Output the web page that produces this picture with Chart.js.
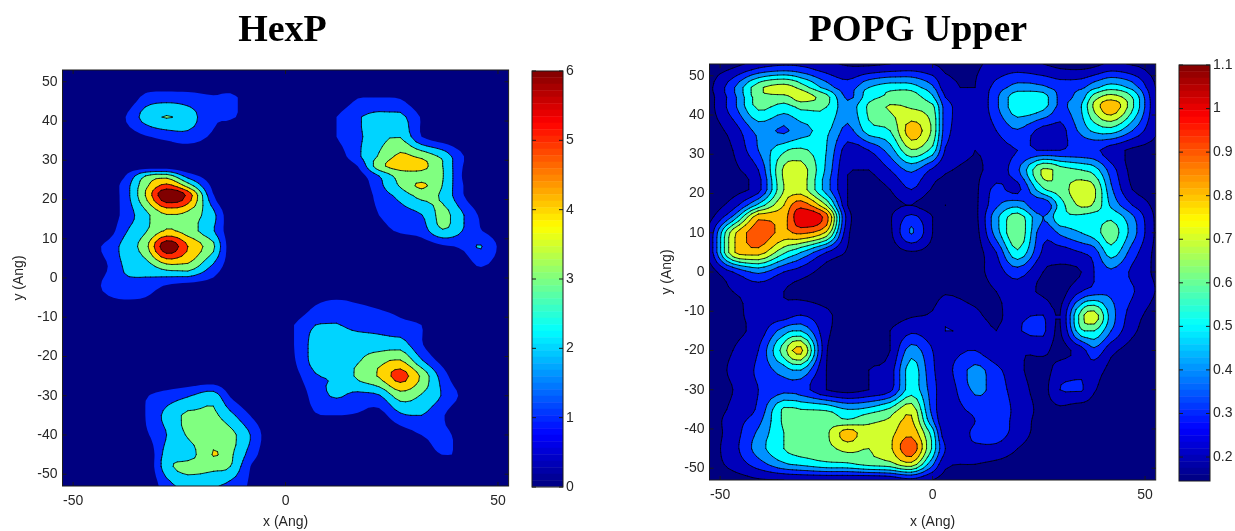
<!DOCTYPE html>
<html>
<head>
<meta charset="utf-8">
<title>HexP / POPG Upper</title>
<script src="https://cdn.jsdelivr.net/npm/chart.js@4/dist/chart.umd.js"></script>
<style>
  html, body { margin: 0; padding: 0; background: #fff; overflow: hidden; }
  #page { position: relative; width: 1235px; height: 531px; }
  .box { position: absolute; }
  canvas { filter: blur(0.4px); }
</style>
</head>
<body>
<div id="page">
  <div class="box" style="left:0;top:0;width:565px;height:531px"><canvas id="map-hexp"></canvas></div>
  <div class="box" style="left:650px;top:0;width:536px;height:531px"><canvas id="map-popg"></canvas></div>
  <div class="box" style="left:525px;top:55px;width:60px;height:445px"><canvas id="bar-hexp"></canvas></div>
  <div class="box" style="left:1172px;top:50px;width:63px;height:445px"><canvas id="bar-popg"></canvas></div>
</div>
<script>
const xTicks = [-50, 0, 50];
const yTicks = [-50, -40, -30, -20, -10, 0, 10, 20, 30, 40, 50];

const hexpLevels = [1, 2, 3, 4, 5, 6];
const hexpLineLevels = [2, 3, 4, 5, 6];
const hexpBarTicks = [0, 1, 2, 3, 4, 5, 6];
const hexpX = [-53, -48, -43, -38, -33, -28, -23, -17, -13, -8, -3, 2, 7, 12, 17, 22, 27, 32, 37, 42, 46, 53];
const hexpY = [53, 51, 46, 41, 36, 31, 28.5, 26, 23.5, 21, 16, 12, 8, 3, -2, -7, -12, -17, -21, -25, -30, -35, -40, -45, -48, -53];
const hexpZ = [
  [0,0,0,0,0,0,0,0,0,0,0,0,0,0,0,0,0,0,0,0,0,0],
  [0,0,0,0,0,0,0,0,0,0,0,0,0,0,0,0,0,0,0,0,0,0],
  [0,0,0,0,1.3,1.5,1.4,1.1,1.2,.5,0,0,0,0,.95,1,.9,0,0,0,0,0],
  [0,0,0,.9,2.4,3.05,2.5,1.2,1.1,.6,0,0,0,1,1.9,2.3,2.3,.9,0,0,0,0],
  [0,0,0,.4,.9,1.3,1.6,.8,.2,0,0,0,0,1,1.8,2.6,2.95,1,.3,0,0,0],
  [0,0,0,0,0,0,0,0,0,0,0,0,0,.4,1.8,3.1,4.2,3.7,2.7,1,.1,0],
  [0,0,0,.3,.3,.3,0,0,0,0,0,0,0,.2,1,3.6,4.4,4.3,3,.9,0,0],
  [0,0,0,.9,3,3.5,1.6,.4,0,0,0,0,0,0,.5,2,3.4,3.6,3.05,.8,0,0],
  [0,0,0,1.4,3.7,5.3,3.6,.7,0,0,0,0,0,0,.2,1.7,3.1,4.15,2.95,.95,0,0],
  [0,0,0,1.4,4,6.9,5.7,1.1,0,0,0,0,0,0,0,1.4,2.3,3.3,2.8,1,.1,0],
  [0,0,0,1.3,2.7,3.9,3.6,2.3,.3,0,0,0,0,0,0,1,1.5,1.95,3.3,2,.8,0],
  [0,0,0,1.8,2.9,4.1,3.5,2.1,.4,0,0,0,0,0,0,.6,1.15,1.5,2.9,1.9,1.05,0],
  [0,0,1.1,2.3,3.6,6.7,5,3.2,.5,0,0,0,0,0,0,0,0,.3,.8,1.2,2.05,0],
  [0,0,.7,2.1,2.5,3.6,3.7,1.8,.5,0,0,0,0,0,0,0,0,0,0,.3,1.05,0],
  [0,0,1.1,1.7,1.6,.9,.6,.5,0,0,0,0,0,0,0,0,0,0,0,0,0,0],
  [0,0,.5,.7,.6,.1,0,0,0,0,0,0,1,1.4,1.1,.85,.6,0,0,0,0,0],
  [0,0,0,0,0,0,0,0,0,0,0,1,2,2.05,1.7,1.6,1.3,1,0,0,0,0],
  [0,0,0,0,0,0,0,0,0,0,0,1,2.4,2.5,2.6,2.5,2.5,1.1,0,0,0,0],
  [0,0,0,0,0,0,0,0,0,0,0,.9,2.4,2.4,2.9,3.6,4.05,2.1,.6,0,0,0],
  [0,0,0,0,0,0,0,0,0,0,0,.6,1.9,2.1,3.2,4.1,5.4,3.8,1.5,0,0,0],
  [0,0,0,0,.9,1.4,1.9,2.5,.9,0,0,0,1.5,2.1,1.7,1.9,3.5,2.9,1.9,.7,0,0],
  [0,0,0,0,1,2.3,3.2,3.2,2.3,.9,0,0,.9,1,.9,.6,1.8,2,1.1,0,0,0],
  [0,0,0,0,.8,2,3.1,3.5,3.3,1.9,.1,0,0,0,0,0,.4,1,1.2,.6,0,0],
  [0,0,0,0,0,2.4,2.5,4.05,3.2,1.5,0,0,0,0,0,0,0,.5,1.02,.8,0,0],
  [0,0,0,0,0,2.6,3.4,3.3,3,.9,0,0,0,0,0,0,0,0,0,0,0,0],
  [0,0,0,0,0,1.6,2.3,2.1,1.7,.8,0,0,0,0,0,0,0,0,0,0,0,0]
];

const popgLevels = [.2, .3, .4, .5, .6, .7, .8, .9, 1, 1.1];
const popgBarTicks = [.2, .3, .4, .5, .6, .7, .8, .9, 1, 1.1];
const popgX = [-53, -47, -41, -35, -31, -25, -20, -15, -10, -5, 0, 3, 10, 15, 20, 26, 30, 35, 38, 42, 47, 53];
const popgY = [53, 47, 44.5, 42, 36, 31, 26, 21, 17, 14, 10, 5, 0, -5, -11, -15, -20, -25, -30, -35, -38, -41, -45, -49, -53];
const popgZ = [
  [.16,.17,.24,.28,.27,.22,.19,.18,.2,.22,.2,.18,.19,.22,.24,.2,.17,.16,.17,.22,.19,.16],
  [.17,.38,.67,.75,.66,.46,.35,.5,.56,.55,.42,.24,.2,.34,.44,.42,.36,.38,.47,.55,.46,.18],
  [.16,.36,.65,.66,.74,.64,.38,.56,.62,.65,.52,.3,.2,.38,.57,.55,.38,.45,.65,.75,.6,.19],
  [.16,.36,.62,.55,.62,.6,.44,.62,.71,.69,.63,.35,.21,.38,.57,.53,.38,.5,.72,.88,.62,.2],
  [.15,.24,.43,.385,.46,.52,.37,.55,.6,.85,.68,.34,.2,.3,.39,.26,.26,.43,.52,.55,.4,.2],
  [.15,.2,.4,.58,.62,.5,.25,.3,.45,.69,.56,.29,.2,.25,.3,.3,.3,.32,.32,.25,.18,.17],
  [.15,.18,.3,.72,.75,.48,.2,.2,.3,.42,.28,.21,.19,.24,.38,.72,.65,.6,.55,.35,.17,.16],
  [.15,.17,.26,.7,.75,.45,.2,.16,.2,.3,.19,.18,.18,.33,.27,.58,.65,.76,.72,.42,.2,.16],
  [.15,.25,.53,.8,.96,.7,.2,.15,.18,.2,.16,.2,.18,.38,.47,.3,.55,.72,.68,.48,.3,.17],
  [.16,.42,.87,.86,1.08,.95,.25,.16,.19,.33,.2,.17,.17,.47,.65,.4,.58,.57,.55,.58,.42,.17],
  [.2,.76,.95,.87,.92,.78,.22,.16,.18,.41,.2,.17,.16,.45,.68,.33,.42,.5,.55,.65,.45,.17],
  [.2,.78,.85,.62,.5,.3,.19,.15,.16,.19,.17,.16,.16,.3,.58,.28,.25,.3,.35,.55,.35,.17],
  [.15,.3,.42,.3,.25,.16,.15,.15,.15,.15,.16,.17,.17,.25,.35,.2,.18,.2,.3,.38,.28,.18],
  [.15,.2,.24,.2,.17,.15,.15,.15,.15,.15,.16,.19,.17,.2,.25,.18,.16,.3,.35,.38,.31,.19],
  [.15,.17,.24,.25,.3,.22,.16,.15,.16,.19,.21,.28,.22,.18,.27,.3,.2,.65,.75,.45,.25,.16],
  [.15,.18,.24,.45,.5,.23,.15,.16,.2,.28,.25,.3,.28,.2,.29,.32,.19,.58,.6,.4,.22,.15],
  [.15,.2,.3,.65,.83,.21,.15,.17,.2,.45,.3,.27,.3,.21,.2,.22,.17,.25,.37,.23,.16,.15],
  [.15,.22,.32,.45,.5,.2,.16,.2,.25,.55,.32,.27,.43,.33,.22,.17,.24,.27,.25,.17,.15,.15],
  [.15,.2,.3,.37,.35,.2,.16,.2,.27,.55,.35,.24,.42,.35,.25,.17,.3,.31,.21,.15,.15,.15],
  [.15,.22,.32,.62,.6,.58,.5,.53,.62,.76,.36,.25,.33,.35,.27,.17,.18,.15,.15,.15,.15,.15],
  [.15,.25,.37,.62,.65,.66,.62,.68,.72,.82,.42,.22,.3,.35,.26,.16,.15,.15,.15,.15,.15,.15],
  [.15,.25,.42,.6,.65,.68,.85,.72,.77,.87,.55,.23,.32,.35,.25,.16,.15,.15,.15,.15,.15,.15],
  [.16,.26,.45,.6,.65,.67,.73,.7,.78,.97,.58,.3,.28,.27,.2,.15,.15,.15,.15,.15,.15,.15],
  [.16,.23,.35,.48,.52,.57,.58,.63,.66,.76,.42,.22,.2,.18,.16,.15,.15,.15,.15,.15,.15,.15],
  [.15,.16,.19,.2,.21,.21,.21,.2,.22,.27,.2,.17,.16,.15,.15,.15,.15,.15,.15,.15,.15,.15]
];

const tickFont = { family: "'Liberation Sans', Arial, sans-serif", size: 14 };
const tickColor = "#262626";

// same colour ramp as matlab's jet
function jet(t) {
  t = Math.max(0, Math.min(1, t));
  const ramp = v => Math.max(0, Math.min(1, v));
  const r = ramp(Math.min(4 * t - 1.5, 4.5 - 4 * t));
  const g = ramp(Math.min(4 * t - 0.5, 3.5 - 4 * t));
  const b = ramp(Math.min(4 * t + 0.5, 2.5 - 4 * t));
  return `rgb(${Math.round(r * 255)},${Math.round(g * 255)},${Math.round(b * 255)})`;
}

// rounds the contour corners: catmull-rom between nodes, kept inside the two node values
function refine(line, sub) {
  const out = [];
  for (let i = 0; i < line.length - 1; i++) {
    const p0 = line[Math.max(i - 1, 0)], p1 = line[i], p2 = line[i + 1], p3 = line[Math.min(i + 2, line.length - 1)];
    const lo = Math.min(p1, p2), hi = Math.max(p1, p2);
    for (let k = 0; k < sub; k++) {
      const t = k / sub;
      const v = 0.5 * (2 * p1 + (p2 - p0) * t + (2 * p0 - 5 * p1 + 4 * p2 - p3) * t * t + (3 * p1 - p0 - 3 * p2 + p3) * t * t * t);
      out.push(Math.max(lo, Math.min(hi, v)));
    }
  }
  out.push(line[line.length - 1]);
  return out;
}

function refinePos(line, sub) {
  const out = [];
  for (let i = 0; i < line.length - 1; i++) {
    for (let k = 0; k < sub; k++) out.push(line[i] + (line[i + 1] - line[i]) * k / sub);
  }
  out.push(line[line.length - 1]);
  return out;
}

function refineGrid(zs, sub) {
  const rows = zs.map(r => refine(r, sub));
  const cols = rows[0].map((_, i) => refine(rows.map(r => r[i]), sub));
  return cols[0].map((_, j) => cols.map(c => c[j]));
}

// fills z >= level cell by cell, and collects the level line
function traceCell(corners, level, path, lines) {
  let firstEntry = null, lastExit = null, started = false;
  for (let i = 0; i < 4; i++) {
    const a = corners[i], b = corners[(i + 1) % 4];
    const aIn = a.z >= level, bIn = b.z >= level;
    if (aIn) {
      if (!started) { path.moveTo(a.x, a.y); started = true; } else path.lineTo(a.x, a.y);
    }
    if (aIn !== bIn) {
      const t = (level - a.z) / (b.z - a.z);
      const p = { x: a.x + (b.x - a.x) * t, y: a.y + (b.y - a.y) * t };
      if (!started) { path.moveTo(p.x, p.y); started = true; } else path.lineTo(p.x, p.y);
      if (aIn) {
        lastExit = p;
      } else if (lastExit) {
        lines.push([lastExit, p]);
        lastExit = null;
      } else {
        firstEntry = p;
      }
    }
  }
  if (started) path.closePath();
  if (lastExit && firstEntry) lines.push([lastExit, firstEntry]);
}

function contourPlugin(xs, ys, zs, levels, lineLevels, zMin, zMax, titleCenter) {
  const sub = 4;
  const fineX = refinePos(xs, sub), fineY = refinePos(ys, sub), fineZ = refineGrid(zs, sub);
  return {
    id: "contour",
    beforeDraw(chart) {
      // title sits off the plot centre in the reference
      chart.titleBlock.left = titleCenter - 150;
      chart.titleBlock.right = titleCenter + 150;
    },
    beforeDatasetsDraw(chart) {
      const { ctx, chartArea: area, scales } = chart;
      const px = fineX.map(v => scales.x.getPixelForValue(v));
      const py = fineY.map(v => scales.y.getPixelForValue(v));
      ctx.save();
      ctx.beginPath();
      ctx.rect(area.left, area.top, area.width, area.height);
      ctx.clip();
      ctx.fillStyle = jet(0);
      ctx.fillRect(area.left, area.top, area.width, area.height);
      const lineSets = [];
      levels.forEach(level => {
        const path = new Path2D();
        const lines = [];
        for (let j = 0; j < fineY.length - 1; j++) {
          for (let i = 0; i < fineX.length - 1; i++) {
            traceCell([
              { x: px[i], y: py[j], z: fineZ[j][i] },
              { x: px[i + 1], y: py[j], z: fineZ[j][i + 1] },
              { x: px[i + 1], y: py[j + 1], z: fineZ[j + 1][i + 1] },
              { x: px[i], y: py[j + 1], z: fineZ[j + 1][i] }
            ], level, path, lines);
          }
        }
        ctx.fillStyle = jet((level - zMin) / (zMax - zMin));
        ctx.fill(path);
        if (lineLevels.includes(level)) lineSets.push(lines);
      });
      ctx.strokeStyle = "#000";
      ctx.lineWidth = 0.8;
      ctx.lineCap = "round";
      lineSets.forEach(lines => {
        ctx.beginPath();
        lines.forEach(([a, b]) => { ctx.moveTo(a.x, a.y); ctx.lineTo(b.x, b.y); });
        ctx.stroke();
      });
      ctx.restore();
    }
  };
}

const framePlugin = {
  id: "frame",
  afterDraw(chart) {
    const { ctx, chartArea: area, scales } = chart;
    ctx.save();
    ctx.strokeStyle = "#1a1a1a";
    ctx.lineWidth = 1;
    ctx.strokeRect(area.left, area.top, area.width, area.height);
    if (scales.x && scales.x.options.display) {
      scales.x.ticks.forEach(t => {
        const p = scales.x.getPixelForValue(t.value);
        ctx.beginPath();
        ctx.moveTo(p, area.bottom); ctx.lineTo(p, area.bottom - 4);
        ctx.moveTo(p, area.top); ctx.lineTo(p, area.top + 4);
        ctx.stroke();
      });
    }
    scales.y.ticks.forEach(t => {
      const p = scales.y.getPixelForValue(t.value);
      ctx.beginPath();
      ctx.moveTo(area.left, p); ctx.lineTo(area.left + 4, p);
      ctx.moveTo(area.right, p); ctx.lineTo(area.right - 4, p);
      ctx.stroke();
    });
    ctx.restore();
  }
};

function makeMap(id, title, xs, ys, zs, levels, lineLevels, zMin, zMax, o) {
  const nodes = [];
  ys.forEach((y, j) => xs.forEach((x, i) => nodes.push({ x: x, y: y, z: zs[j][i] })));
  new Chart(document.getElementById(id), {
    type: "scatter",
    data: { datasets: [{ data: nodes, pointRadius: 0, pointHoverRadius: 0 }] },
    plugins: [contourPlugin(xs, ys, zs, levels, lineLevels, zMin, zMax, o.titleCenter), framePlugin],
    options: {
      responsive: true,
      maintainAspectRatio: false,
      animation: false,
      events: [],
      layout: { padding: { left: 0, right: o.padRight, top: 0, bottom: 0 } },
      plugins: {
        legend: { display: false },
        tooltip: { enabled: false },
        title: {
          display: true,
          text: title,
          color: "#000",
          font: { family: "'Liberation Serif', 'Times New Roman', serif", size: 38, weight: "bold", lineHeight: 1.2 },
          padding: { top: 8, bottom: o.titleBottom }
        }
      },
      scales: {
        x: {
          type: "linear", min: -52.5, max: 52.5,
          afterBuildTicks: s => { s.ticks = xTicks.map(v => ({ value: v })); },
          afterFit: s => { s.height = o.axisHeight; },
          grid: { drawOnChartArea: false, drawTicks: false },
          border: { display: false },
          ticks: { font: tickFont, color: tickColor, padding: 7, maxRotation: 0, autoSkip: false },
          title: { display: true, text: "x (Ang)", font: tickFont, color: tickColor, padding: { top: o.xTitlePad, bottom: 0 } }
        },
        y: {
          type: "linear", min: -53, max: 53,
          afterBuildTicks: s => { s.ticks = yTicks.map(v => ({ value: v })); },
          afterFit: s => { s.width = o.axisWidth; },
          grid: { drawOnChartArea: false, drawTicks: false },
          border: { display: false },
          ticks: { font: tickFont, color: tickColor, padding: 5, autoSkip: false },
          title: { display: true, text: "y (Ang)", font: tickFont, color: tickColor, padding: { top: o.yTitlePad, bottom: 0 } }
        }
      }
    }
  });
}

function makeBar(id, zMin, zMax, barTicks, o) {
  const steps = 64;
  const datasets = [];
  for (let i = 0; i < steps; i++) {
    const lo = zMin + (zMax - zMin) * i / steps;
    const hi = zMin + (zMax - zMin) * (i + 1) / steps;
    datasets.push({
      data: [[lo, hi]],
      backgroundColor: jet((i + 0.5) / steps),
      barPercentage: 1,
      categoryPercentage: 1
    });
  }
  new Chart(document.getElementById(id), {
    type: "bar",
    data: { labels: [""], datasets: datasets },
    plugins: [framePlugin],
    options: {
      responsive: true,
      maintainAspectRatio: false,
      animation: false,
      events: [],
      layout: { padding: o.padding },
      plugins: { legend: { display: false }, tooltip: { enabled: false } },
      scales: {
        x: { stacked: true, display: false },
        y: {
          position: "right",
          min: zMin, max: zMax,
          afterBuildTicks: s => { s.ticks = barTicks.map(v => ({ value: v })); },
          afterFit: s => { s.width = o.axisWidth; },
          grid: { drawOnChartArea: false, drawTicks: false },
          border: { display: false },
          ticks: { font: tickFont, color: tickColor, padding: 3, autoSkip: false, callback: v => String(v) }
        }
      }
    }
  });
}

makeMap("map-hexp", "HexP", hexpX, hexpY, hexpZ, hexpLevels, hexpLineLevels, 0, 6,
  { padRight: 56.4, titleBottom: 16.4, axisHeight: 45, axisWidth: 62.5, xTitlePad: 1, yTitlePad: 11, titleCenter: 282.5 });
makeMap("map-popg", "POPG Upper", popgX, popgY, popgZ, popgLevels, popgLevels, 0.145, 1.1,
  { padRight: 30.3, titleBottom: 10.4, axisHeight: 51, axisWidth: 59.5, xTitlePad: 11, yTitlePad: 9, titleCenter: 268 });
makeBar("bar-hexp", 0, 6, hexpBarTicks, { padding: { left: 7, right: 0, top: 16, bottom: 13 }, axisWidth: 22 });
makeBar("bar-popg", 0.145, 1.1, popgBarTicks, { padding: { left: 7, right: 0, top: 15, bottom: 14 }, axisWidth: 25 });
</script>
</body>
</html>
